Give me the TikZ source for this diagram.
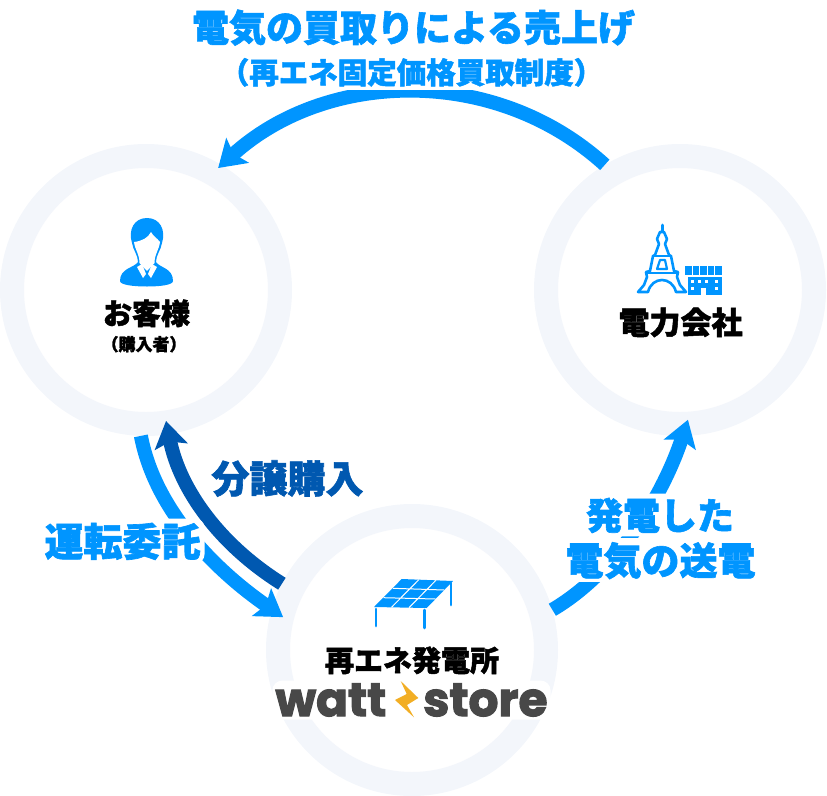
\documentclass[tikz,border=0pt]{standalone}
\usepackage{fontspec}
\usetikzlibrary{arrows.meta,calc,positioning}
\newfontfamily\jpfont{Noto Sans CJK JP}[BoldFeatures={FakeBold=1.6}]
\newfontfamily\logofont{Poppins}[BoldFeatures={FakeBold=2.4}]
\definecolor{flowblue}{HTML}{0095FF}
\definecolor{deepblue}{HTML}{0058B0}
\definecolor{ringgray}{HTML}{F3F6FB}
\definecolor{logogray}{HTML}{484848}
\definecolor{boltorange}{HTML}{F2AE24}
\tikzset{
  ring/.style={circle,draw=ringgray,line width=24pt,minimum size=268pt,fill=white},
  flow/.style={line width=14pt,flowblue,-{Stealth[length=26pt,width=33pt,inset=5pt]}},
  halo/.style={fill=white,rounded corners=9pt,inner sep=4pt},
  flowtext/.style={halo,text=flowblue,text height=.86*#1 pt,text depth=.08*#1 pt,font=\jpfont\bfseries\fontsize{#1}{#1}\selectfont},
  blacktext/.style={text=black,inner sep=0pt,text height=.86*#1 pt,text depth=.08*#1 pt,font=\jpfont\bfseries\fontsize{#1}{#1}\selectfont},
}
\begin{document}
\begin{tikzpicture}[x=1pt,y=-1pt]
\useasboundingbox (0,0) rectangle (827,795);
\node[ring] (customer) at (146,290) {};
\node[ring] (utility) at (680,290) {};
\node[ring] (plant) at (412,650) {};
% arrows
\draw[flow] (utility.121) .. controls (495,65) and (326,70) .. ($(customer)+(59.4:141.7pt)$);
\draw[flow] (customer.268) .. controls (155,510) and (215,570) .. ($(plant)+(165.7:133pt)$);
\draw[flow,deepblue] (plant.153) .. controls (220,545) and (180,490) .. ($(customer)+(-81.3:132.5pt)$);
\draw[flow] (plant.16) .. controls (620,570) and (665,490) .. ($(utility)+(-86.5:130pt)$);
% person
\fill[flowblue] (132,243) .. controls (128,230) and (134,218) .. (147,218) .. controls (160,218) and (166,230) .. (162,243)
  .. controls (161,250) and (156,255) .. (156,262) .. controls (160,268) and (173,268) .. (173,281)
  .. controls (173,285) and (160,286.5) .. (147,286.5) .. controls (134,286.5) and (120,285) .. (120,281)
  .. controls (120,268) and (134,268) .. (138,262) .. controls (138,255) and (133,250) .. (132,243) -- cycle;
\fill[white] (134,242) .. controls (142,241) and (148,238) .. (151,232) .. controls (153,236) and (157,238) .. (160,242)
  .. controls (159,250) and (154.5,254) .. (154.5,263) -- (147,271) -- (139.5,263) .. controls (139.5,254) and (135,250) .. (134,242) -- cycle;
\fill[white] (137,267) -- (142,264) -- (146,274) -- (143,278) -- cycle;
\fill[white] (157,267) -- (152,264) -- (148,274) -- (151,278) -- cycle;
% tower
\draw[flowblue,line width=3pt,line cap=round] (662.5,225) -- (662.5,231);
\draw[flowblue,line width=2.6pt,line join=round] (660,232) -- (657,239) -- (659,244) -- (655,255) -- (653,256) -- (650,271) -- (646,272)
  -- (647,277) -- (644,285) -- (638,292) -- (648,292) .. controls (650,284) and (656,280) .. (662,280) .. controls (668,280) and (674,284) .. (676,292)
  -- (686,292) -- (680,285) -- (677,277) -- (678,272) -- (674,271) -- (671,256) -- (669,255) -- (665,244) -- (667,239) -- (664,232) -- cycle;
\draw[flowblue,line width=2.2pt] (653,256) -- (671,256) (647,273) -- (677,273);
\draw[flowblue,line width=2.2pt,line join=round] (660,260) -- (665,260) -- (667,269) -- (657,269) -- cycle;
% building
\foreach \barx in {685,692.5,700,707.5,715}
  \fill[flowblue] (\barx,266) rectangle +(6.8,9);
\fill[flowblue] (688,277) rectangle (722,295);
\foreach \winx/\winy in {691/280,698/280,705/280,715/280,691/287,715/287}
  \fill[white] (\winx,\winy) rectangle +(2.5,3);
\fill[white] (701,288) rectangle (706,295);
% solar panel
\draw[flowblue,line width=2.8pt,line cap=round] (376,609) -- (376,626) (424.3,610) -- (424.3,628) (451,583) -- (451,605);
\fill[flowblue] (401.7,579) -- (453,581) -- (426.7,608) -- (374,607) -- cycle;
\draw[white,line width=1pt] (418.8,579.7) -- (391.5,607.3) (435.9,580.3) -- (409,607.7) (392.8,588.3) -- (444.2,590) (383.5,597.7) -- (435.5,599);
% labels
\node[flowtext=37] (salestitle) at (413.5,27) {電気の買取りによる売上げ};
\node[flowtext=29.5] (salesnote) at (411.5,72) {（再エネ固定価格買取制度）};
\node[blacktext=29] (customername) at (146.5,313) {お客様};
\node[blacktext=17] (customernote) at (144,344) {（購入者）};
\node[blacktext=31] (utilityname) at (680.5,322) {電力会社};
\node[blacktext=29] (plantname) at (412,660) {再エネ発電所};
\node[flowtext=38,text=deepblue,fill=none] (buylabel) at (287.5,478) {分譲購入};
\node[flowtext=39] (runlabel) at (122.5,541) {運転委託};
\node[flowtext=37] (genlabel) at (660,515) {発電した};
\node[flowtext=38] (sendlabel) at (660.5,560) {電気の送電};
% logo
\node[fill=white,rounded corners=10pt,inner sep=3pt,text=logogray,font=\logofont\bfseries\fontsize{47}{47}\selectfont] (logo) at (411.5,700) {watt\hspace{37pt}store};
\fill[boltorange] (400.7,681) -- (418.3,698) -- (407,705) -- (414,717.3) -- (395,700) -- (406.7,694) -- cycle;
\end{tikzpicture}
\end{document}
